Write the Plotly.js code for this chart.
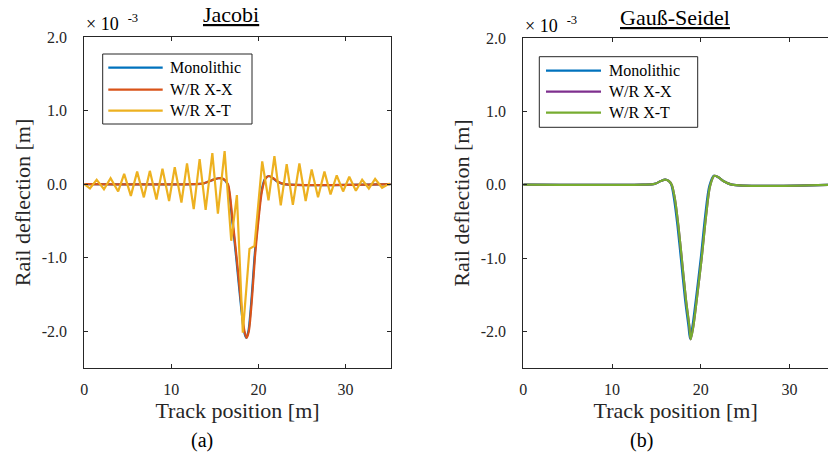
<!DOCTYPE html>
<html><head><meta charset="utf-8">
<script src="https://cdn.plot.ly/plotly-3.0.1.min.js"></script>
<style>html,body{margin:0;padding:0;background:#fff}#chart{width:828px;height:455px}</style>
</head><body><div id="chart"></div>
<script>
// ---- data (deflection in units of 1e-3 m, position in m) ----
const seriesNames = ["Monolithic", "W/R X-X", "W/R X-T"];
const xTicks = [0, 10, 20, 30];
const yTicks = [-2, -1, 0, 1, 2];
const yTickText = ["-2.0", "-1.0", "0.0", "1.0", "2.0"];

// Jacobi panel
const xMonoJ = [0, 12.6, 13.7, 14.6, 15.4, 15.95, 16.45, 16.95, 17.45, 17.95, 18.35, 18.6, 18.85, 19.25, 19.55, 19.95, 20.35, 20.75, 21.15, 21.65, 22.25, 22.95, 35.2];
const yMonoJ = [0, 0, 0.01, 0.05, 0.08, 0.07, 0.0, -0.45, -1.0, -1.6, -2.0, -2.09, -2.0, -1.5, -1.0, -0.5, -0.1, 0.07, 0.11, 0.08, 0.03, 0, 0];
const xXXJ = [0, 12.6, 13.7, 14.6, 15.4, 16.0, 16.5, 17.0, 17.5, 18.0, 18.4, 18.65, 18.9, 19.3, 19.6, 20.0, 20.4, 20.8, 21.2, 21.7, 22.3, 23.0, 35.2];
const yXXJ = [0, 0, 0.01, 0.05, 0.08, 0.07, 0.0, -0.45, -1.0, -1.6, -2.0, -2.09, -2.0, -1.5, -1.0, -0.5, -0.1, 0.07, 0.11, 0.08, 0.03, 0, 0];
const xXTJ = [0, 0.65, 1.42, 2.26, 3.02, 3.89, 4.58, 5.35, 6.07, 6.84, 7.53, 8.29, 8.98, 9.74, 10.39, 11.16, 11.80, 12.57, 13.25, 13.94, 14.71, 15.35, 16.12, 16.88, 17.53, 18.21, 18.98, 19.55, 20.44, 21.16, 21.84, 22.57, 23.25, 23.96, 24.71, 25.43, 26.12, 26.85, 27.59, 28.29, 29.00, 29.73, 30.44, 31.20, 31.92, 32.69, 33.41, 34.21, 35.1];
const yXTJ = [0, -0.06, 0.06, -0.07, 0.08, -0.10, 0.14, -0.16, 0.17, -0.18, 0.18, -0.21, 0.21, -0.23, 0.23, -0.25, 0.28, -0.34, 0.34, -0.35, 0.42, -0.40, 0.45, -0.77, -0.15, -2.02, -0.88, -0.84, 0.31, -0.22, 0.38, -0.29, 0.27, -0.28, 0.28, -0.23, 0.20, -0.18, 0.17, -0.14, 0.12, -0.10, 0.10, -0.09, 0.06, -0.06, 0.07, -0.05, 0.01];

// Gauss-Seidel panel
const xMonoGS = [0, 13.5, 14.8, 15.5, 16.0, 16.4, 16.68, 17.0, 17.38, 17.76, 18.24, 18.62, 18.8, 19.07, 19.45, 20.01, 20.5, 20.97, 21.48, 22.0, 22.55, 23.5, 35];
const yMonoGS = [0, 0, 0.01, 0.05, 0.07, 0.05, 0.0, -0.2, -0.56, -1.0, -1.57, -1.93, -2.1, -1.93, -1.57, -1.0, -0.43, -0.02, 0.12, 0.10, 0.05, 0.0, 0];
const xXXGS = [0, 13.5, 14.8, 15.5, 16.0, 16.4, 16.73, 17.1, 17.48, 17.86, 18.34, 18.72, 18.87, 19.17, 19.55, 20.11, 20.6, 21.05, 21.53, 22.0, 22.55, 23.5, 35];
const yXXGS = [0, 0, 0.01, 0.05, 0.07, 0.05, 0.0, -0.2, -0.56, -1.0, -1.57, -1.93, -2.11, -1.93, -1.57, -1.0, -0.43, -0.02, 0.12, 0.10, 0.05, 0.0, 0];
const xXTGS = [0, 13.5, 14.8, 15.5, 16.0, 16.4, 16.73, 17.1, 17.48, 17.86, 18.34, 18.72, 18.87, 19.17, 19.55, 20.11, 20.6, 21.05, 21.53, 22.0, 22.55, 23.5, 35];
const yXTGS = [0, 0, 0.01, 0.05, 0.07, 0.05, 0.0, -0.2, -0.56, -1.0, -1.57, -1.93, -2.11, -1.93, -1.57, -1.0, -0.43, -0.02, 0.12, 0.10, 0.05, 0.0, 0];

// ---- styling ----
const W = 828, H = 455;
const FONT = "Liberation Serif";
const INK = "#262626";
const colJ = ["#0072BD", "#D95319", "#EDB120"];
const colGS = ["#0072BD", "#7E2F8E", "#77AC30"];
const px = v => v / W, py = v => 1 - v / H;

function tr(x, y, color, xa, ya, shape) {
  return {x: x, y: y, type: "scatter", mode: "lines", xaxis: xa, yaxis: ya, showlegend: false,
    line: {color: color, width: 2.2, shape: shape, smoothing: 0.8}, hoverinfo: "skip"};
}
const data = [
  tr(xMonoJ, yMonoJ, colJ[0], "x", "y", "spline"),
  tr(xXXJ, yXXJ, colJ[1], "x", "y", "spline"),
  tr(xXTJ, yXTJ, colJ[2], "x", "y", "linear"),
  tr(xMonoGS, yMonoGS, colGS[0], "x2", "y2", "spline"),
  tr(xXXGS, yXXGS, colGS[1], "x2", "y2", "spline"),
  tr(xXTGS, yXTGS, colGS[2], "x2", "y2", "spline")
];

function xax(domain, range, anchor, mirror) {
  return {domain: domain, range: range, anchor: anchor, tickvals: xTicks, ticks: "inside", ticklen: 4,
    tickcolor: INK, showline: true, linecolor: INK, linewidth: 1, mirror: mirror, showgrid: false, zeroline: false,
    ticklabelstandoff: 7,
    tickfont: {family: FONT, size: 16, color: INK},
    title: {text: "Track position [m]", font: {family: FONT, size: 22, color: INK}, standoff: 5}};
}
function yax(domain, anchor, mirror) {
  return {domain: domain, range: [-2.5, 2.0], anchor: anchor, tickvals: yTicks, ticktext: yTickText, ticks: "inside", ticklen: 4,
    tickcolor: INK, showline: true, linecolor: INK, linewidth: 1, mirror: mirror, showgrid: false, zeroline: false,
    ticklabelstandoff: 13,
    tickfont: {family: FONT, size: 16, color: INK},
    title: {text: "Rail deflection [m]", font: {family: FONT, size: 22, color: INK}, standoff: 5}};
}

const shapes = [], annotations = [];
function legend(box, lx0, lx1, tx, rows, colors) {
  shapes.push({type: "rect", xref: "paper", yref: "paper", x0: px(box[0]), x1: px(box[2]), y0: py(box[1]), y1: py(box[3]),
    line: {color: INK, width: 1}, fillcolor: "white"});
  rows.forEach((r, i) => {
    shapes.push({type: "line", xref: "paper", yref: "paper", x0: px(lx0), x1: px(lx1), y0: py(r), y1: py(r),
      line: {color: colors[i], width: 2.2}});
    annotations.push({xref: "paper", yref: "paper", x: px(tx), y: py(r), xanchor: "left", yanchor: "middle",
      text: seriesNames[i], showarrow: false, font: {family: FONT, size: 16, color: "#000"}});
  });
}
legend([102.7, 54, 252, 124], 108.3, 162.7, 167.5, [67.7, 89.7, 110.7], colJ);
legend([539.3, 56.7, 697.7, 127.3], 546, 601, 606.5, [70.7, 91.7, 112.7], colGS);

function note(x, y, text, size, anchor) {
  annotations.push({xref: "paper", yref: "paper", x: px(x), y: py(y), xanchor: anchor || "center", yanchor: "middle",
    text: text, showarrow: false, font: {family: FONT, size: size, color: "#000"}});
}
const expo = "× 10  <sup>-3</sup>";
note(231, 15, "<u>Jacobi</u>", 22);
note(675, 18, "<u>Gauß-Seidel</u>", 22);
note(84, 22, expo, 18, "left");
note(523, 24, expo, 18, "left");
note(202, 440, "(a)", 20);
note(641, 440, "(b)", 20);

const layout = {
  width: W, height: H, margin: {l: 0, r: 0, t: 0, b: 0}, paper_bgcolor: "white", plot_bgcolor: "white",
  font: {family: FONT, color: INK},
  xaxis: xax([84.3 / W, 390.7 / W], [0, 35.2], "y", "ticks"),
  yaxis: yax([1 - 368 / H, 1 - 37 / H], "x", "ticks"),
  xaxis2: xax([523.3 / W, 1], [0, 34.35], "y2", "ticks"),
  yaxis2: yax([1 - 368 / H, 1 - 38 / H], "x2", false),
  shapes: shapes, annotations: annotations
};
Plotly.newPlot("chart", data, layout, {staticPlot: true, displayModeBar: false});
</script></body></html>
